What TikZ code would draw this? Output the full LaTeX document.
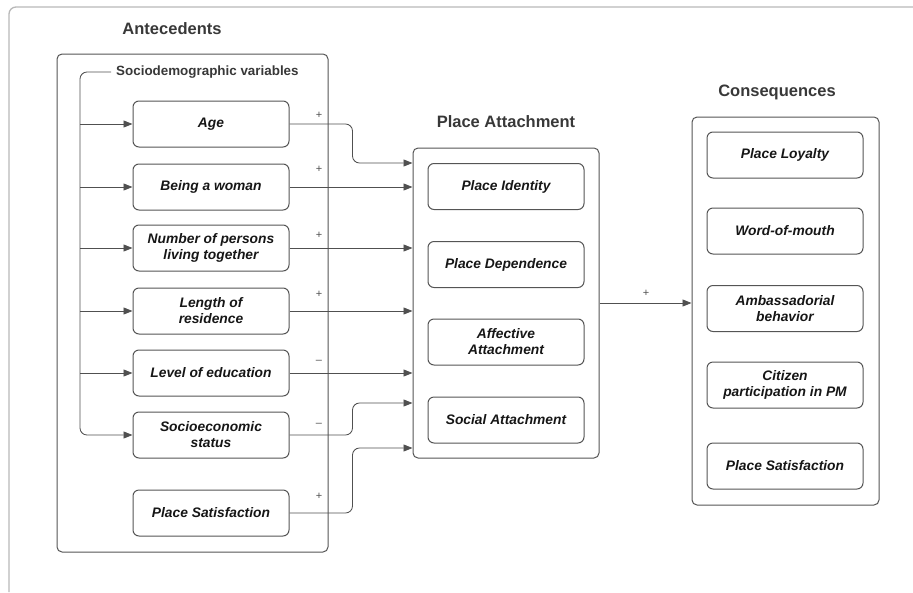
\documentclass[tikz,border=0pt]{standalone}
\usepackage{fontspec}
\setmainfont{Liberation Sans}
\usetikzlibrary{arrows.meta}
\definecolor{boxline}{HTML}{555555}
\definecolor{connline}{HTML}{505050}
\definecolor{frameline}{HTML}{B8B8B8}
\definecolor{titlecol}{HTML}{383838}
\definecolor{txtcol}{HTML}{161616}
\begin{document}
\begin{tikzpicture}[x=1pt,y=-1pt,
 grp/.style={draw=boxline,line width=1pt,rounded corners=5pt,inner sep=0pt},
 item/.style={draw=boxline,line width=1pt,rounded corners=6pt,minimum width=156pt,minimum height=46pt,inner sep=2pt,align=center,text=txtcol,font=\fontsize{13.8}{16}\selectfont\bfseries\itshape},
 ttl/.style={text=titlecol,font=\fontsize{16.5}{19}\selectfont\bfseries},
 sgn/.style={text=connline,font=\fontsize{11}{13}\selectfont},
 conn/.style={draw=connline,line width=0.85pt,rounded corners=7pt},
 arr/.style={conn,-{Triangle[length=9pt,width=7pt]}}
]
\useasboundingbox (0,0) rectangle (913,592);
% outer frame
\draw[frameline,line width=1.3pt,rounded corners=7pt] (913,7) -- (9,7) -- (9,592);

% titles
\node[ttl] (tant) at (172,29) {Antecedents};
\node[ttl] (tpa) at (506,122) {Place Attachment};
\node[ttl] (tcon) at (777,92) {Consequences};

% group boxes
\node[grp,minimum width=271pt,minimum height=498pt] (ant) at (192.5,303) {};
\node[grp,minimum width=186pt,minimum height=310pt] (pa) at (506,303) {};
\node[grp,minimum width=187pt,minimum height=388pt] (con) at (785.5,311) {};

% sociodemographic label
\node[anchor=west,inner sep=0pt,text=titlecol,font=\fontsize{13.4}{15}\selectfont\bfseries] (sdl) at (116,72) {Sociodemographic variables};
\coordinate (spine) at (80,72);

% antecedent boxes
\node[item] (age) at (211,124) {Age};
\node[item] (woman) at (211,187) {Being a woman};
\node[item] (pers) at (211,248) {Number of persons\\living together};
\node[item] (len) at (211,311) {Length of\\residence};
\node[item] (edu) at (211,373) {Level of education};
\node[item] (soc) at (211,435) {Socioeconomic\\status};
\node[item] (psat) at (211,513) {Place Satisfaction};

% place attachment boxes
\node[item] (pid) at (506,186.5) {Place Identity};
\node[item] (pdep) at (506,264.5) {Place Dependence};
\node[item] (aff) at (506,342) {Affective\\Attachment};
\node[item] (socatt) at (506,420) {Social Attachment};

% consequence boxes
\node[item] (loy) at (785,155) {Place Loyalty};
\node[item] (wom) at (785,231) {Word-of-mouth};
\node[item] (amb) at (785,308.5) {Ambassadorial\\behavior};
\node[item] (cit) at (785,385) {Citizen\\participation in PM};
\node[item] (cps) at (785,466) {Place Satisfaction};

% bracket and arrows into antecedent boxes
\draw[arr] ([xshift=-5pt]sdl.west) -- (spine) |- (soc.west);
\draw[arr] (spine |- age.west) -- (age.west);
\draw[arr] (spine |- woman.west) -- (woman.west);
\draw[arr] (spine |- pers.west) -- (pers.west);
\draw[arr] (spine |- len.west) -- (len.west);
\draw[arr] (spine |- edu.west) -- (edu.west);

% antecedents to place attachment
\draw[arr] (age.east) -- ++(63,0) |- ([yshift=140pt]pa.west);
\draw[arr] (woman.east) -- (woman.east -| pa.west);
\draw[arr] (pers.east) -- (pers.east -| pa.west);
\draw[arr] (len.east) -- (len.east -| pa.west);
\draw[arr] (edu.east) -- (edu.east -| pa.west);
\draw[arr] (soc.east) -- ++(63,0) |- ([yshift=-100pt]pa.west);
\draw[arr] (psat.east) -- ++(63,0) |- ([yshift=-145pt]pa.west);

% place attachment to consequences
\draw[arr] (pa.east) -- (pa.east -| con.west);

% signs
\node[sgn] (s1) at (319,115) {+};
\node[sgn] (s2) at (319,169) {+};
\node[sgn] (s3) at (319,235) {+};
\node[sgn] (s4) at (319,294) {+};
\node[sgn] (s5) at (319,362) {–};
\node[sgn] (s6) at (319,425) {–};
\node[sgn] (s7) at (319,496) {+};
\node[sgn] (s8) at (646,293) {+};
\end{tikzpicture}
\end{document}
